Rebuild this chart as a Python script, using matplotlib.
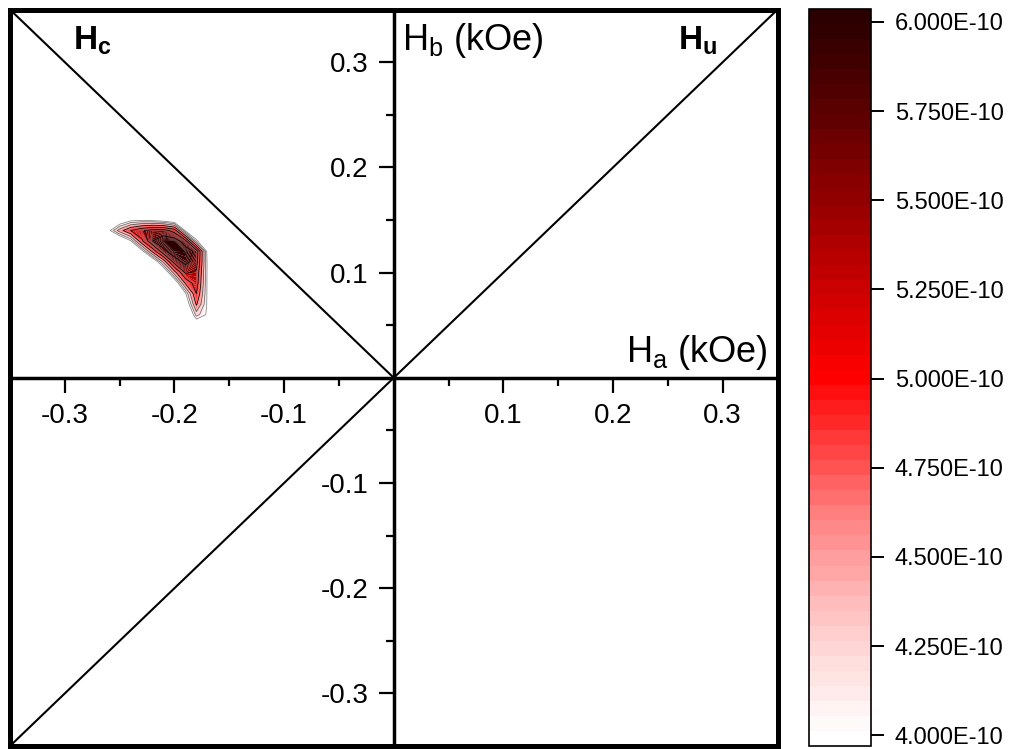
import numpy as np
import matplotlib
matplotlib.use("Agg")
import matplotlib.pyplot as plt
from matplotlib.colors import LinearSegmentedColormap, Normalize
from matplotlib.patches import Rectangle

plt.rcParams['font.family'] = ['Liberation Sans', 'DejaVu Sans']
plt.rcParams['mathtext.fontset'] = 'custom'
plt.rcParams['mathtext.rm'] = 'Liberation Sans'
plt.rcParams['mathtext.bf'] = 'Liberation Sans:bold'
plt.rcParams['mathtext.it'] = 'Liberation Sans:italic'
plt.rcParams['axes.unicode_minus'] = False

# grid of the FORC distribution (Ha, Hb in kOe), values in units of 1E-10
ha = [-0.27, -0.26, -0.25, -0.24, -0.23, -0.22, -0.21, -0.20, -0.19, -0.18, -0.17, -0.16]
hb = [0.04, 0.05, 0.06, 0.07, 0.08, 0.09, 0.10, 0.11, 0.12, 0.13, 0.14, 0.15, 0.16]
rho = [
    [3.0, 3.0, 3.0, 3.0, 3.0, 3.0, 3.0, 3.0, 3.0, 3.0, 3.0, 3.0],
    [3.0, 3.0, 3.0, 3.0, 3.0, 3.0, 3.0, 3.0, 3.0, 3.6, 3.5, 3.0],
    [3.0, 3.0, 3.0, 3.0, 3.0, 3.0, 3.0, 3.0, 3.2, 4.3, 3.95, 3.0],
    [3.0, 3.0, 3.0, 3.0, 3.0, 3.0, 3.0, 3.0, 3.6, 4.8, 3.95, 3.0],
    [3.0, 3.0, 3.0, 3.0, 3.0, 3.0, 3.0, 3.3, 3.95, 5.1, 3.95, 3.0],
    [3.0, 3.0, 3.0, 3.0, 3.0, 3.0, 3.0, 3.6, 4.8, 5.3, 3.95, 3.0],
    [3.0, 3.0, 3.0, 3.0, 3.0, 3.0, 3.5, 4.6, 5.5, 5.4, 3.95, 3.0],
    [3.0, 3.0, 3.0, 3.0, 3.0, 3.5, 4.5, 5.6, 5.9, 5.6, 3.95, 3.0],
    [3.0, 3.0, 3.0, 3.0, 3.8, 4.8, 5.7, 6.0, 6.0, 5.7, 3.9, 3.0],
    [3.0, 3.0, 3.4, 3.95, 5.0, 5.8, 6.0, 6.0, 5.6, 4.1, 3.3, 3.0],
    [3.0, 3.9, 4.6, 5.1, 5.4, 5.6, 5.6, 5.3, 3.95, 3.4, 3.0, 3.0],
    [3.0, 3.0, 3.6, 3.9, 3.95, 3.9, 3.8, 3.6, 3.2, 3.0, 3.0, 3.0],
    [3.0, 3.0, 3.0, 3.0, 3.0, 3.0, 3.0, 3.0, 3.0, 3.0, 3.0, 3.0],
]
cbar_ticks = [4.0, 4.25, 4.5, 4.75, 5.0, 5.25, 5.5, 5.75, 6.0]
line_levels = [4.0, 4.2, 4.45, 4.75, 5.1, 5.45, 5.8]
line_colors = ['0.5', '0.4', '0.3', 'k', 'k', 'k', 'k']
axis_ticks = [-0.3, -0.2, -0.1, 0.1, 0.2, 0.3]
axis_minor = [-0.25, -0.15, -0.05, 0.05, 0.15, 0.25]

scale = 1e-10
X, Y = np.meshgrid(ha, hb)
Z = np.array(rho) * scale

cmap = LinearSegmentedColormap.from_list('forc', [
    (0.0, (1, 1, 1)),
    (0.15, (1, 0.8, 0.8)),
    (0.30, (1, 0.52, 0.52)),
    (0.47, (1, 0.08, 0.08)),
    (0.50, (1, 0, 0)),
    (0.625, (0.8, 0, 0)),
    (0.75, (0.58, 0, 0)),
    (0.875, (0.36, 0, 0)),
    (1.0, (0.17, 0, 0)),
])
cmap.set_under('white')
cmap.set_over((0.17, 0, 0))
norm = Normalize(4.0 * scale, 6.0 * scale)
levels = np.linspace(3.97, 6.036, 50) * scale

fig = plt.figure(figsize=(10.13, 7.49), dpi=100)
ax = fig.add_axes([10 / 1013, 3 / 749, 767.5 / 1013, 736.4 / 749])

cf = ax.contourf(X, Y, Z, levels=levels, cmap=cmap, norm=norm, antialiased=True)
ax.contour(X, Y, Z, levels=np.array(line_levels) * scale,
           colors=line_colors, linewidths=0.55)

ax.set_xlim(-0.35, 0.35)
ax.set_ylim(-0.35, 0.35)

# diagonals
ax.plot([-0.35, 0.35], [-0.35, 0.35], color='k', lw=1.5)
ax.plot([-0.35, 0], [0.35, 0], color='k', lw=1.5)

# axes crossing at the origin, box drawn separately
ax.spines['left'].set_position('zero')
ax.spines['bottom'].set_position('zero')
ax.spines['left'].set_linewidth(2.5)
ax.spines['bottom'].set_linewidth(2.5)
ax.spines['top'].set_visible(False)
ax.spines['right'].set_visible(False)
ax.add_patch(Rectangle((0, 0), 1, 1, transform=ax.transAxes, fill=False,
                       lw=3.6, ec='k', clip_on=False, zorder=5))

ax.set_xticks(axis_ticks)
ax.set_yticks(axis_ticks)
ax.set_xticks(axis_minor, minor=True)
ax.set_yticks(axis_minor, minor=True)
ax.set_xticklabels([f"{t:.1f}" for t in axis_ticks])
ax.set_yticklabels([f"{t:.1f}" for t in axis_ticks])
ax.tick_params(which='major', direction='out', length=11, width=1.6,
               labelsize=20, pad=7)
ax.tick_params(which='minor', direction='out', length=6, width=1.6)

ax.text(-0.2928, 0.312, r'$\mathbf{H_c}$', fontsize=24, ha='left', va='baseline')
ax.text(0.2592, 0.312, r'$\mathbf{H_u}$', fontsize=24, ha='left', va='baseline')
ax.text(0.0074, 0.312, r'H$_\mathrm{b}$ (kOe)', fontsize=26, ha='left', va='baseline')
ax.text(0.3407, 0.0149, r'H$_\mathrm{a}$ (kOe)', fontsize=26, ha='right', va='baseline')

# colour scale
cax = fig.add_axes([809 / 1013, 3 / 749, 62 / 1013, 737 / 749])
cb = fig.colorbar(cf, cax=cax)
cb.set_ticks(np.array(cbar_ticks) * scale)
cb.set_ticklabels([f"{t:.3f}E-10" for t in cbar_ticks])
cb.outline.set_linewidth(1.2)
cax.tick_params(length=9, width=1.4, labelsize=17, pad=8)
cax.minorticks_off()

fig.savefig('out.png', dpi=100)
